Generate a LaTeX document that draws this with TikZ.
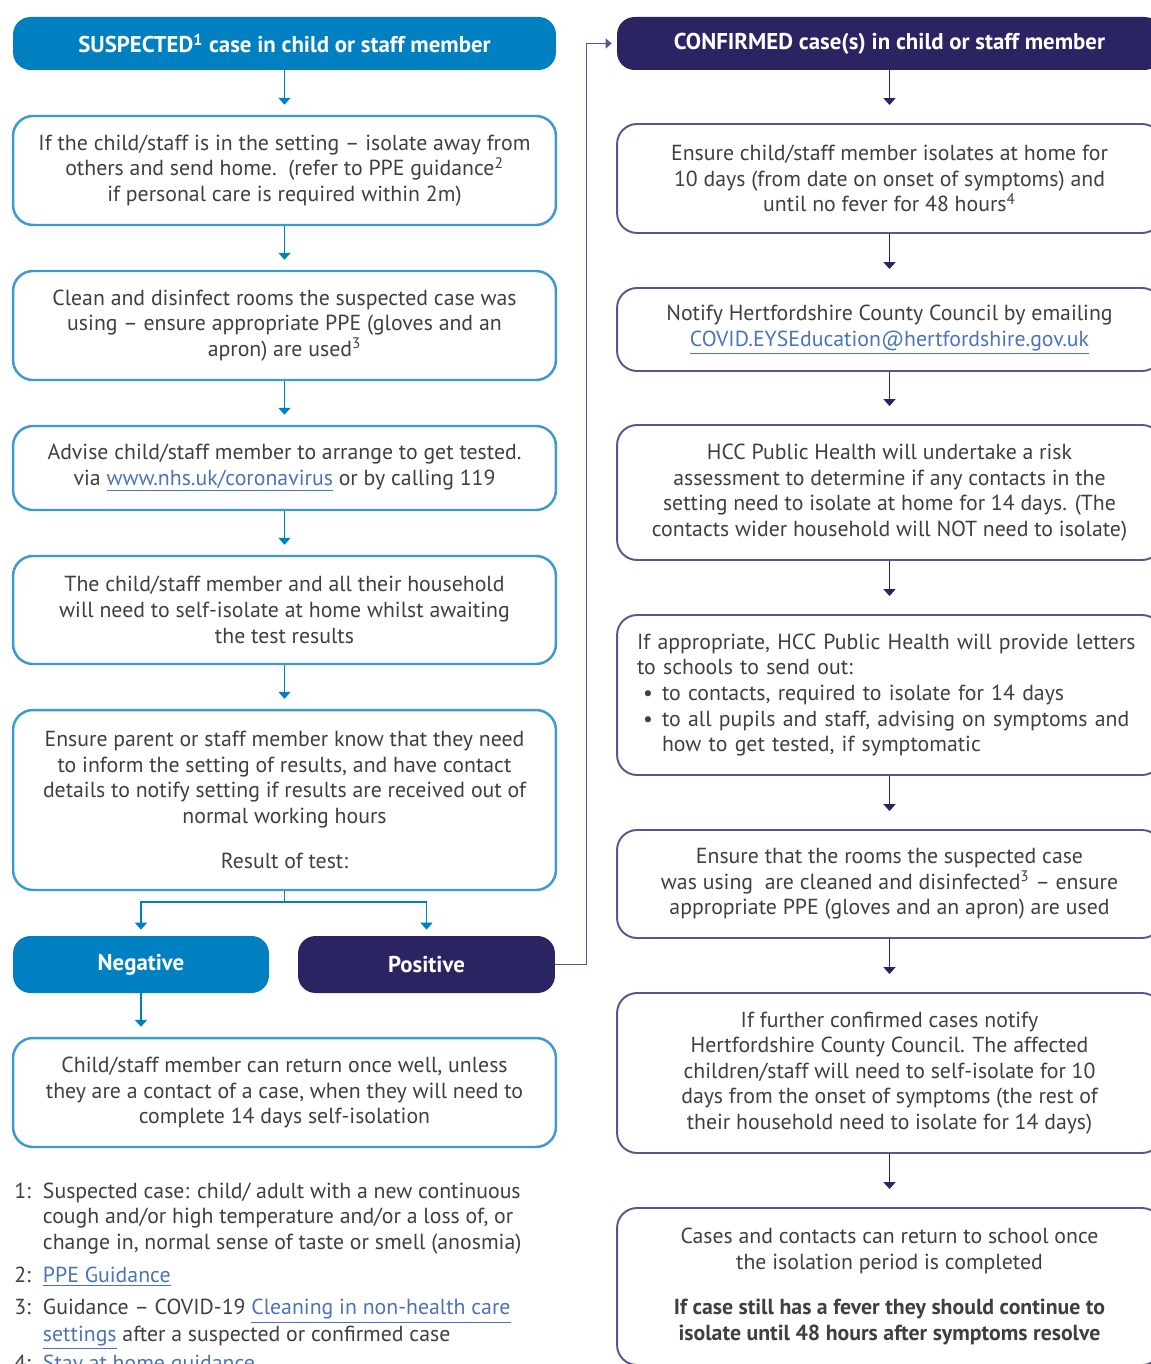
\documentclass[tikz,border=0pt]{standalone}
\usepackage{fontspec}
\setmainfont{PT Sans}
\usepackage{xcolor}
\usetikzlibrary{arrows.meta,calc}
\definecolor{hccblue}{HTML}{0080C0}
\definecolor{hccsky}{HTML}{3D9AD1}
\definecolor{hccnavy}{HTML}{2A2462}
\definecolor{hccline}{HTML}{5A5590}
\definecolor{hcctext}{HTML}{3F3F3F}
\definecolor{hcclink}{HTML}{4A74B8}
\newcommand{\weblink}[1]{{\color{hcclink}\underline{#1}}}
\newcommand{\blt}{\makebox[0.5cm][l]{\hspace{0.12cm}\textbullet}}

\begin{document}
\begin{tikzpicture}[x=0.02cm,y=-0.02cm,
  every node/.style={font=\fontsize{12.4}{14.6}\selectfont,text=hcctext,align=center,inner sep=0pt},
  head/.style={rounded corners=0.35cm,minimum height=1.06cm,text=white,font=\fontsize{13}{14.6}\selectfont\bfseries},
  lhead/.style={head,fill=hccblue,minimum width=10.86cm},
  rhead/.style={head,fill=hccnavy,minimum width=10.9cm},
  lbox/.style={draw=hccsky,line width=1.4pt,rounded corners=0.4cm,minimum width=10.86cm},
  rbox/.style={draw=hccline,line width=1.1pt,rounded corners=0.4cm,minimum width=10.9cm},
  larr/.style={draw=hccblue,line width=1.1pt,-{Triangle[width=0.24cm,length=0.14cm]},shorten >=0.2cm},
  rarr/.style={draw=hccnavy,line width=1.1pt,-{Triangle[width=0.24cm,length=0.14cm]},shorten >=0.36cm}]
\useasboundingbox (0,0) rectangle (1151,1364);
\clip (0,0) rectangle (1151,1364);

\node[lhead] (susp) at (284.5,43.5) {SUSPECTED\textsuperscript{1} case in child or staff member};
\node[lbox,minimum height=2.18cm] (iso) at (284.5,170.5) {If the child/staff is in the setting -- isolate away from\\ others and send home.\ \ (refer to PPE guidance\textsuperscript{2}\\ if personal care is required within 2m)};
\node[lbox,minimum height=2.18cm] (clean) at (284.5,325.5) {Clean and disinfect rooms the suspected case was\\ using -- ensure appropriate PPE (gloves and an\\ apron) are used\textsuperscript{3}};
\node[lbox,minimum height=1.68cm] (test) at (284.5,468) {Advise child/staff member to arrange to get tested.\\ via \weblink{www.nhs.uk/coronavirus} or by calling 119};
\node[lbox,minimum height=2.16cm] (house) at (284.5,610) {The child/staff member and all their household\\ will need to self-isolate at home whilst awaiting\\ the test results};
\node[lbox,minimum height=3.6cm] (inform) at (284.5,800) {Ensure parent or staff member know that they need\\ to inform the setting of results, and have contact\\ details to notify setting if results are received out of\\ normal working hours\\[0.39cm] Result of test:};
\node[lhead,minimum width=5.12cm,minimum height=1.14cm] (neg) at (141,964.5) {Negative};
\node[rhead,minimum width=5.14cm,minimum height=1.14cm] (pos) at (426.5,964.5) {Positive};
\node[lbox,minimum height=2.18cm] (ret) at (284.5,1092.5) {Child/staff member can return once well, unless\\ they are a contact of a case, when they will need to\\ complete 14 days self-isolation};

\node[anchor=north west] (notes) at (14,1180) {\begin{tabular}{@{}l@{\hspace{0.24cm}}l@{}}
1: & Suspected case: child/ adult with a new continuous\\
   & cough and/or high temperature and/or a loss of, or\\
   & change in, normal sense of taste or smell (anosmia)\\[0.15cm]
2: & \weblink{PPE Guidance}\\[0.13cm]
3: & Guidance -- COVID-19 \weblink{Cleaning in non-health care}\\
   & \weblink{settings} after a suspected or confirmed case\\[0.08cm]
4: & \weblink{Stay at home guidance}
\end{tabular}};

\node[rhead] (conf) at (889.5,43.5) {CONFIRMED case(s) in child or staff member};
\node[rbox,minimum height=2.18cm] (ensure) at (889.5,178.5) {Ensure child/staff member isolates at home for\\ 10 days (from date on onset of symptoms) and\\ until no fever for 48 hours\textsuperscript{4}};
\node[rbox,minimum height=1.66cm] (notify) at (889.5,329.5) {Notify Hertfordshire County Council by emailing\\ \weblink{COVID.EYSEducation@hertfordshire.gov.uk}};
\node[rbox,minimum height=2.7cm] (risk) at (889.5,492.5) {HCC Public Health will undertake a risk\\ assessment to determine if any contacts in the\\ setting need to isolate at home for 14 days. (The\\ contacts wider household will NOT need to isolate)};
\node[rbox,minimum height=3.2cm,align=left,text width=10.1cm] (letters) at (889.5,695) {If appropriate, HCC Public Health will provide letters\\ to schools to send out:\\ \blt to contacts, required to isolate for 14 days\\ \blt to all pupils and staff, advising on symptoms and\\ \hspace*{0.5cm}how to get tested, if symptomatic};
\node[rbox,minimum height=2.16cm] (rooms) at (889.5,884) {Ensure that the rooms the suspected case\\ was using\ \ are cleaned and disinfected\textsuperscript{3} -- ensure\\ appropriate PPE (gloves and an apron) are used};
\node[rbox,minimum height=3.2cm] (further) at (889.5,1073) {If further confirmed cases notify\\ Hertfordshire County Council. The affected\\ children/staff will need to self-isolate for 10\\ days from the onset of symptoms (the rest of\\ their household need to isolate for 14 days)};
\node[rbox,minimum height=3.14cm] (back) at (889.5,1286.5) {Cases and contacts can return to school once\\ the isolation period is completed\\[0.39cm] \textbf{If case still has a fever they should continue to}\\ \textbf{isolate until 48 hours after symptoms resolve}};

\draw[larr] (susp) -- (iso);
\draw[larr] (iso) -- (clean);
\draw[larr] (clean) -- (test);
\draw[larr] (test) -- (house);
\draw[larr] (house) -- (inform);
\coordinate (split) at (284.5,902);
\draw[draw=hccblue,line width=1.1pt] (inform.south) -- (split);
\draw[larr,shorten >=0.12cm] (split) -| (neg.north);
\draw[larr,shorten >=0.12cm] (split) -| (pos.north);
\draw[larr] (neg.south) -- (neg.south |- ret.north);
\draw[draw=hccline,line width=0.9pt,-{Triangle[width=0.2cm,length=0.12cm]},shorten >=0.1cm] (pos.east) -- ++(31,0) |- (conf.west);

\draw[rarr] (conf) -- (ensure);
\draw[rarr] (ensure) -- (notify);
\draw[rarr] (notify) -- (risk);
\draw[rarr] (risk) -- (letters);
\draw[rarr] (letters) -- (rooms);
\draw[rarr] (rooms) -- (further);
\draw[rarr] (further) -- (back);
\end{tikzpicture}
\end{document}
